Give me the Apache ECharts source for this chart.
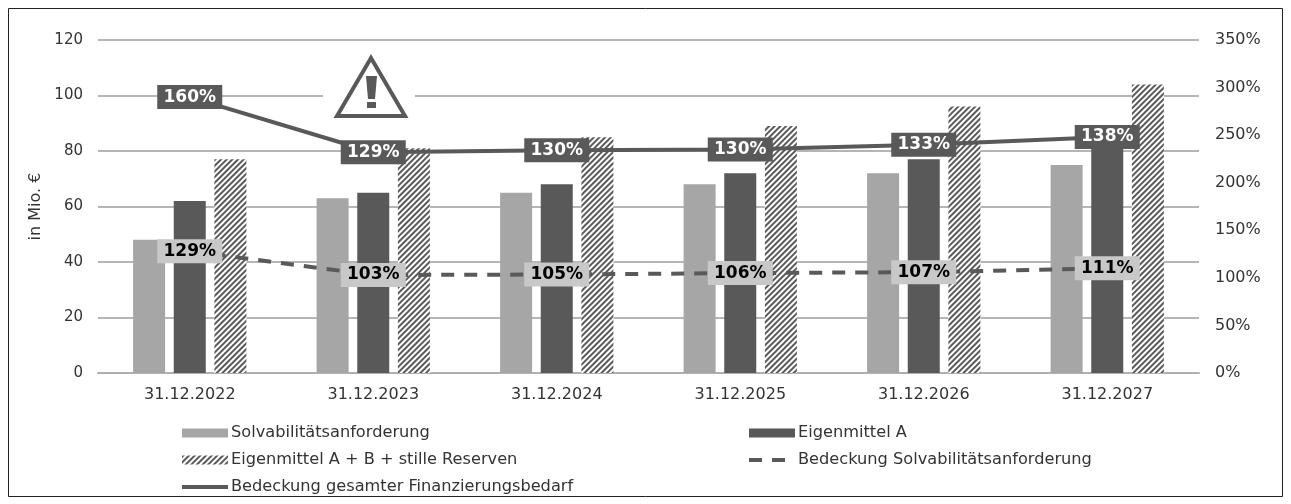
<!DOCTYPE html>
<html><head><meta charset="utf-8">
<style>html,body{margin:0;padding:0;background:#fff}#c{width:1291px;height:504px}</style>
<script src="https://cdn.jsdelivr.net/npm/echarts@6/dist/echarts.min.js"></script>
</head><body><div id="c"></div>
<script>
const categories = ['31.12.2022','31.12.2023','31.12.2024','31.12.2025','31.12.2026','31.12.2027'];
const solvency = [48,63,65,68,72,75];
const ownA = [62,65,68,72,77,85];
const ownABR = [77,81,85,89,96,104];
const coverSolv = [128,103,103.5,105,106,110];
const coverSolvLabels = ['129%','103%','105%','106%','107%','111%'];
const coverFin = [290,232,234,235,240,248];
const coverFinLabels = ['160%','129%','130%','130%','133%','138%'];
const names = ['Solvabilitätsanforderung','Eigenmittel A','Eigenmittel A + B + stille Reserven','Bedeckung Solvabilitätsanforderung','Bedeckung gesamter Finanzierungsbedarf'];
const font = '"DejaVu Sans"';
const textColor = '#333';
const hatch = {symbol:'rect',symbolSize:1,dashArrayX:[[1,0]],dashArrayY:[2,2],rotation:-Math.PI/4,color:'#5a5a5a',backgroundColor:'#fff'};
const legendBase = {orient:'vertical',itemWidth:46,itemHeight:9,itemGap:11,textStyle:{fontFamily:font,fontSize:16.2,color:textColor,padding:[0,0,0,-2]}};
const noDot = {color:'rgba(0,0,0,0)',opacity:0,borderWidth:0};
function labelSeries(values,arr,bg,fg){return {name:'labels',type:'scatter',yAxisIndex:1,data:values,symbol:'rect',symbolSize:1,z:8,itemStyle:{color:bg,opacity:1},
  label:{show:true,position:'inside',opacity:1,formatter:p=>arr[p.dataIndex],backgroundColor:bg,color:fg,fontFamily:font,fontSize:17,fontWeight:'bold',width:65,height:24,lineHeight:24,align:'center',verticalAlign:'middle',padding:0}};}
const chart = echarts.init(document.getElementById('c'),null,{renderer:'canvas'});
chart.setOption({
  animation:false,backgroundColor:'#fff',
  grid:{left:98,right:92,top:40,bottom:131},
  legend:[
    Object.assign({},legendBase,{left:175,top:420,data:[{name:names[0],icon:'rect'},{name:names[2],icon:'rect'},
      {name:names[4],itemStyle:noDot,lineStyle:{width:4,color:'#595959'}}]}),
    Object.assign({},legendBase,{left:742,top:420,data:[{name:names[1],icon:'rect'},
      {name:names[3],itemStyle:noDot,lineStyle:{width:4,color:'#595959',type:[13,10]}}]})
  ],
  xAxis:{type:'category',data:categories,axisTick:{show:false},axisLine:{lineStyle:{color:'#b0b0b0',width:2}},
    axisLabel:{fontFamily:font,fontSize:16,color:textColor,margin:14}},
  yAxis:[
    {type:'value',min:0,max:120,interval:20,name:'in Mio. €',nameLocation:'middle',nameGap:51,nameRotate:90,
     nameTextStyle:{fontFamily:font,fontSize:16,color:textColor},
     axisLine:{show:false},axisTick:{show:false},
     axisLabel:{fontFamily:font,fontSize:15,color:textColor,margin:15},
     splitLine:{lineStyle:{color:'#b5b5b5',width:2}}},
    {type:'value',min:0,max:350,interval:50,axisLine:{show:false},axisTick:{show:false},
     axisLabel:{fontFamily:font,fontSize:16,color:textColor,margin:16,formatter:'{value}%'},splitLine:{show:false}}
  ],
  series:[
    {name:names[0],type:'bar',data:solvency,barWidth:32,barGap:'27%',itemStyle:{color:'#a6a6a6'}},
    {name:names[1],type:'bar',data:ownA,barWidth:32,itemStyle:{color:'#595959'}},
    {name:names[2],type:'bar',data:ownABR,barWidth:32,itemStyle:{color:'#fff',decal:hatch}},
    {name:names[3],type:'line',yAxisIndex:1,data:coverSolv,symbol:'none',z:5,
     lineStyle:{color:'#595959',width:4,type:[13,10]},itemStyle:{color:'#595959'}},
    {name:names[4],type:'line',yAxisIndex:1,data:coverFin,symbol:'none',z:5,
     lineStyle:{color:'#595959',width:4},itemStyle:{color:'#595959'}},
    labelSeries(coverSolv,coverSolvLabels,'#c8c8c8','#000'),
    labelSeries(coverFin,coverFinLabels,'#595959','#fff')
  ],
  graphic:[
    {type:'rect',z:0,silent:true,shape:{x:8.5,y:8.5,width:1274,height:488},style:{fill:'none',stroke:'#222',lineWidth:1}},
    {type:'rect',z:50,silent:true,shape:{x:323,y:92,width:92,height:8},style:{fill:'#fff'}},
    {type:'polygon',z:51,silent:true,shape:{points:[[371,58],[337,116],[405,116]]},style:{fill:'#fff',stroke:'#595959',lineWidth:4}},
    {type:'polygon',z:52,silent:true,shape:{points:[[366,76],[377,76],[375,99],[368,99]]},style:{fill:'#595959'}},
    {type:'rect',z:52,silent:true,shape:{x:367,y:102,width:9,height:6},style:{fill:'#595959'}}
  ]
});
</script></body></html>
